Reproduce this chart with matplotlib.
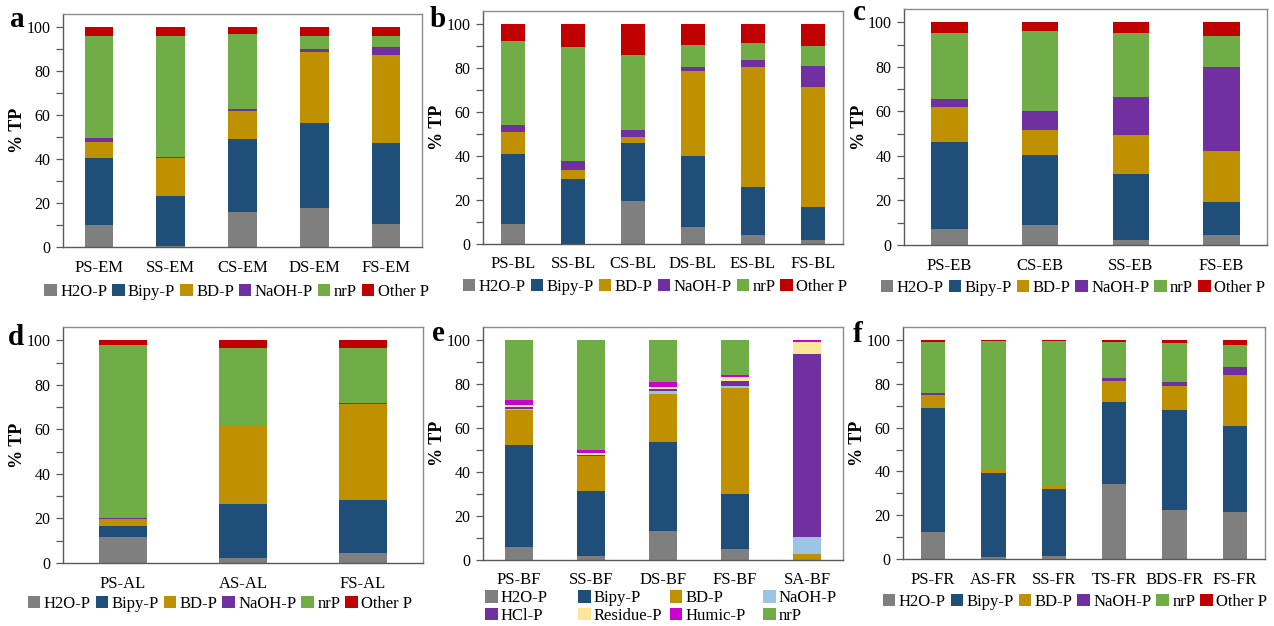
import numpy as np
import matplotlib.pyplot as plt
from matplotlib.patches import Patch

plt.rcParams['font.family'] = ['Liberation Serif', 'DejaVu Serif']
plt.rcParams['font.size'] = 12

W, H = 1274, 626

# fraction names and colours used in most panels
fractions = ['H2O-P', 'Bipy-P', 'BD-P', 'NaOH-P', 'nrP', 'Other P']
colors = ['#7f7f7f', '#1f4e79', '#bf9000', '#7030a0', '#70ad47', '#c00000']

# panel e has its own set of fractions
fractions_e = ['H2O-P', 'Bipy-P', 'BD-P', 'NaOH-P', 'HCl-P', 'Residue-P', 'Humic-P', 'nrP']
colors_e = ['#7f7f7f', '#1f4e79', '#bf9000', '#9dc3e6', '#7030a0', '#ffe699', '#cc00cc', '#70ad47']

# a: EM
cats_a = ['PS-EM', 'SS-EM', 'CS-EM', 'DS-EM', 'FS-EM']
h2o_a = [9.8, 0.5, 16.1, 17.7, 10.6]
bipy_a = [30.7, 22.7, 33.0, 38.8, 36.7]
bd_a = [7.2, 17.1, 12.9, 32.0, 40.0]
naoh_a = [1.7, 0.5, 0.6, 1.7, 3.8]
nrp_a = [46.7, 55.3, 34.1, 5.9, 5.0]
other_a = [3.9, 3.9, 3.3, 3.9, 3.9]

# b: BL
cats_b = ['PS-BL', 'SS-BL', 'CS-BL', 'DS-BL', 'ES-BL', 'FS-BL']
h2o_b = [9.1, 0.0, 19.5, 7.9, 3.9, 2.0]
bipy_b = [31.9, 29.7, 26.3, 32.2, 22.0, 14.9]
bd_b = [10.1, 4.0, 2.8, 38.6, 54.6, 54.4]
naoh_b = [3.1, 4.0, 3.4, 1.8, 3.0, 9.9]
nrp_b = [38.1, 52.0, 33.9, 10.0, 7.9, 8.8]
other_b = [7.7, 10.3, 14.1, 9.5, 8.6, 10.0]

# c: EB
cats_c = ['PS-EB', 'CS-EB', 'SS-EB', 'FS-EB']
h2o_c = [7.3, 9.0, 2.4, 4.3]
bipy_c = [39.0, 31.6, 29.4, 14.8]
bd_c = [15.9, 10.9, 17.5, 23.0]
naoh_c = [3.5, 8.9, 17.1, 38.0]
nrp_c = [29.4, 35.9, 28.7, 13.8]
other_c = [4.9, 3.7, 4.9, 6.1]

# d: AL
cats_d = ['PS-AL', 'AS-AL', 'FS-AL']
h2o_d = [11.7, 2.1, 4.4]
bipy_d = [4.8, 24.5, 24.0]
bd_d = [3.3, 35.4, 43.2]
naoh_d = [0.4, 0.2, 0.4]
nrp_d = [77.8, 34.2, 24.5]
other_d = [2.0, 3.6, 3.5]

# e: BF
cats_e = ['PS-BF', 'SS-BF', 'DS-BF', 'FS-BF', 'SA-BF']
h2o_e = [5.8, 2.0, 13.2, 4.9, 0.0]
bipy_e = [46.6, 29.5, 40.6, 25.0, 0.0]
bd_e = [15.7, 15.6, 21.9, 48.4, 2.6]
naoh_e = [0.5, 0.3, 1.0, 1.0, 8.0]
hcl_e = [0.8, 0.4, 1.0, 2.3, 83.3]
residue_e = [1.2, 1.0, 1.2, 1.5, 5.5]
humic_e = [2.0, 1.4, 2.1, 0.9, 0.6]
nrp_e = [27.4, 49.8, 19.0, 16.0, 0.0]

# f: FR
cats_f = ['PS-FR', 'AS-FR', 'SS-FR', 'TS-FR', 'BDS-FR', 'FS-FR']
h2o_f = [12.2, 0.7, 1.5, 34.2, 22.2, 21.7]
bipy_f = [56.6, 38.8, 30.6, 37.7, 45.9, 39.1]
bd_f = [6.1, 1.2, 1.3, 9.4, 10.9, 23.1]
naoh_f = [0.9, 0.1, 0.1, 1.2, 2.0, 3.8]
nrp_f = [23.4, 58.6, 66.3, 16.6, 17.9, 10.0]
other_f = [0.8, 0.6, 0.2, 0.9, 1.1, 2.3]

LEG_KW = dict(frameon=False, fontsize=12, handlelength=0.75, handleheight=0.75,
              handletextpad=0.2, columnspacing=0.3, labelspacing=0.1,
              borderaxespad=0, borderpad=0)


def px_axes(fig, left, right, top, bottom):
    return fig.add_axes([left / W, (H - bottom) / H, (right - left) / W, (bottom - top) / H])


def panel(ax, letter, letter_xy, cats, series, cols):
    x = np.arange(len(cats))
    base = np.zeros(len(cats))
    for vals, c in zip(series, cols):
        vals = np.array(vals)
        ax.bar(x, vals, width=0.4, bottom=base, color=c, linewidth=0)
        base = base + vals

    ax.set_xlim(-0.5, len(cats) - 0.5)
    ax.set_ylim(0, 106)
    ax.set_yticks(np.arange(0, 101, 20))
    ax.set_yticks(np.arange(10, 100, 20), minor=True)
    ax.tick_params(axis='y', which='both', direction='out', length=5, width=0.9,
                   color='#595959', labelsize=11.5, pad=4)
    ax.set_xticks(x)
    ax.set_xticklabels(cats, fontsize=12)
    ax.tick_params(axis='x', length=0, pad=9)
    ax.set_ylabel('% TP', fontsize=13, fontweight='bold', labelpad=0)

    for s in ['top', 'right']:
        ax.spines[s].set_color('#8c8c8c')
        ax.spines[s].set_linewidth(1.0)
    for s in ['left', 'bottom']:
        ax.spines[s].set_color('#595959')
        ax.spines[s].set_linewidth(1.0)

    ax.text(letter_xy[0], letter_xy[1], letter, transform=ax.transAxes, fontsize=21,
            fontweight='bold', ha='left', va='baseline')


def row_legend(ax, names, cols, cx, cy):
    handles = [Patch(facecolor=c, edgecolor='none') for c in cols]
    ax.legend(handles, names, loc='center', bbox_to_anchor=(cx, cy),
              ncol=len(names), **LEG_KW)


fig = plt.figure(figsize=(W / 100, H / 100), dpi=100)

ax_a = px_axes(fig, 63, 422, 14, 247)
panel(ax_a, 'a', (-0.148, 0.944), cats_a,
      [h2o_a, bipy_a, bd_a, naoh_a, nrp_a, other_a], colors)
row_legend(ax_a, fractions, colors, 0.483, -0.193)

ax_b = px_axes(fig, 483, 843, 11, 244)
panel(ax_b, 'b', (-0.147, 0.93), cats_b,
      [h2o_b, bipy_b, bd_b, naoh_b, nrp_b, other_b], colors)
row_legend(ax_b, fractions, colors, 0.478, -0.185)

ax_c = px_axes(fig, 904, 1267, 9, 245)
panel(ax_c, 'c', (-0.14, 0.952), cats_c,
      [h2o_c, bipy_c, bd_c, naoh_c, nrp_c, other_c], colors)
row_legend(ax_c, fractions, colors, 0.465, -0.182)

ax_d = px_axes(fig, 63, 423, 327, 563)
panel(ax_d, 'd', (-0.153, 0.924), cats_d,
      [h2o_d, bipy_d, bd_d, naoh_d, nrp_d, other_d], colors)
row_legend(ax_d, fractions, colors, 0.436, -0.174)

ax_e = px_axes(fig, 483, 843, 327, 560)
panel(ax_e, 'e', (-0.142, 0.94), cats_e,
      [h2o_e, bipy_e, bd_e, naoh_e, hcl_e, residue_e, humic_e, nrp_e], colors_e)
# two rows of four, each column starting at a fixed position
col_x = [0.006, 0.264, 0.519, 0.778]
for j, cx in enumerate(col_x):
    idx = [j, j + 4]
    leg = ax_e.legend([Patch(facecolor=colors_e[i], edgecolor='none') for i in idx],
                      [fractions_e[i] for i in idx], loc='upper left',
                      bbox_to_anchor=(cx, -0.13), ncol=1, **LEG_KW)
    if j < len(col_x) - 1:
        ax_e.add_artist(leg)

ax_f = px_axes(fig, 903, 1265, 327, 559)
panel(ax_f, 'f', (-0.138, 0.935), cats_f,
      [h2o_f, bipy_f, bd_f, naoh_f, nrp_f, other_f], colors)
row_legend(ax_f, fractions, colors, 0.475, -0.185)

fig.savefig('out.png', dpi=100)
